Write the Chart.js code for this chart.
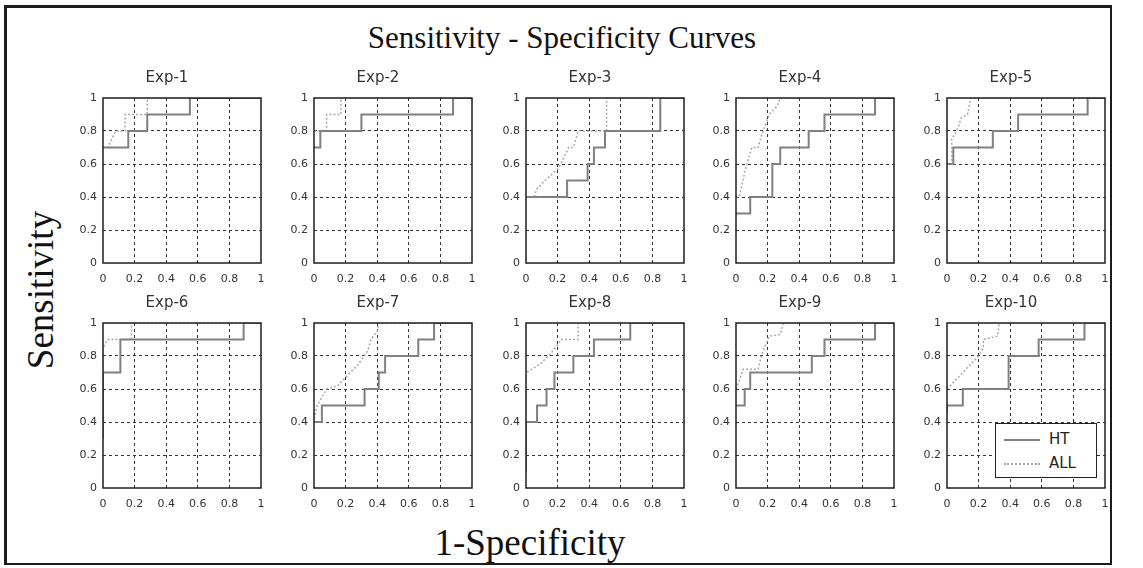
<!DOCTYPE html>
<html>
<head>
<meta charset="utf-8">
<script src="https://cdn.jsdelivr.net/npm/chart.js@4.4.1/dist/chart.umd.min.js"></script>
<style>
  body { margin: 0; background: #fff; width: 1143px; height: 568px; overflow: hidden; position: relative; }
  #frame { position: absolute; left: 4px; top: 5px; width: 1103px; height: 555px; border: 3px solid #1c1c1c; border-right-width: 2px; border-bottom-width: 2px; }
  .panel { position: absolute; }
  .serif { position: absolute; font-family: "Liberation Serif", "DejaVu Serif", serif; color: #111; white-space: nowrap; }
  #mainTitle { left: 0; width: 1124px; top: 20px; height: 36px; line-height: 36px; font-size: 31px; text-align: center; }
  #yLabel { left: 40px; top: 290px; font-size: 37px; transform: translate(-50%, -50%) rotate(-90deg); }
  #xLabel { left: 530px; top: 542px; font-size: 37px; transform: translate(-50%, -50%); }
  #legend { position: absolute; left: 995px; top: 423px; width: 100px; height: 53px; border: 1.5px solid #222; background: #fff; font-family: "DejaVu Sans", sans-serif; font-size: 15px; color: #222; z-index: 5; }
  .legRow { position: absolute; left: 8px; height: 20px; line-height: 20px; }
  .legLine { display: inline-block; width: 36px; vertical-align: middle; margin-right: 9px; }
</style>
</head>
<body>
<div id="frame"></div>
<div id="mainTitle" class="serif">Sensitivity - Specificity Curves</div>
<div id="yLabel" class="serif">Sensitivity</div>
<div id="xLabel" class="serif">1-Specificity</div>
<div id="legend"></div>
<script>
// axis ticks
const tickVals = [0, 0.2, 0.4, 0.6, 0.8, 1];
const tickLabels = ['0', '0.2', '0.4', '0.6', '0.8', '1'];
const expNames = ['Exp-1', 'Exp-2', 'Exp-3', 'Exp-4', 'Exp-5', 'Exp-6', 'Exp-7', 'Exp-8', 'Exp-9', 'Exp-10'];
const seriesNames = ['HT', 'ALL'];

// curves (x = 1-specificity, y = sensitivity)
const ht1X = [0, 0.16, 0.16, 0.28, 0.28, 0.55, 0.55, 1];
const ht1Y = [0.7, 0.7, 0.8, 0.8, 0.9, 0.9, 1, 1];
const all1X = [0, 0.03, 0.08, 0.14, 0.14, 0.28, 0.28, 1];
const all1Y = [0.7, 0.7, 0.8, 0.8, 0.9, 0.9, 1, 1];

const ht2X = [0, 0.04, 0.04, 0.3, 0.3, 0.88, 0.88, 1];
const ht2Y = [0.7, 0.7, 0.8, 0.8, 0.9, 0.9, 1, 1];
const all2X = [0, 0.08, 0.08, 0.17, 0.17, 1];
const all2Y = [0.8, 0.8, 0.9, 0.9, 1, 1];

const ht3X = [0, 0.26, 0.26, 0.39, 0.39, 0.43, 0.43, 0.5, 0.5, 0.85, 0.85, 1];
const ht3Y = [0.4, 0.4, 0.5, 0.5, 0.6, 0.6, 0.7, 0.7, 0.8, 0.8, 1, 1];
const all3X = [0, 0.05, 0.07, 0.12, 0.2, 0.22, 0.27, 0.3, 0.33, 0.51, 0.51, 1];
const all3Y = [0.4, 0.4, 0.45, 0.5, 0.57, 0.6, 0.7, 0.7, 0.8, 0.8, 1, 1];

const ht4X = [0, 0.09, 0.09, 0.23, 0.23, 0.28, 0.28, 0.46, 0.46, 0.56, 0.56, 0.88, 0.88, 1];
const ht4Y = [0.3, 0.3, 0.4, 0.4, 0.6, 0.6, 0.7, 0.7, 0.8, 0.8, 0.9, 0.9, 1, 1];
const all4X = [0, 0.02, 0.06, 0.1, 0.14, 0.16, 0.18, 0.21, 0.26, 0.28, 1];
const all4Y = [0.4, 0.4, 0.57, 0.7, 0.7, 0.77, 0.82, 0.9, 0.95, 1, 1];

const ht5X = [0, 0.04, 0.04, 0.29, 0.29, 0.45, 0.45, 0.89, 0.89, 1];
const ht5Y = [0.6, 0.6, 0.7, 0.7, 0.8, 0.8, 0.9, 0.9, 1, 1];
const all5X = [0, 0.03, 0.03, 0.07, 0.09, 0.13, 0.15, 1];
const all5Y = [0.6, 0.6, 0.75, 0.82, 0.88, 0.9, 1, 1];

const ht6X = [0, 0, 0.11, 0.11, 0.89, 0.89, 1];
const ht6Y = [0.3, 0.7, 0.7, 0.9, 0.9, 1, 1];
const all6X = [0, 0, 0.03, 0.18, 0.18, 1];
const all6Y = [0.3, 0.85, 0.9, 0.9, 1, 1];

const ht7X = [0, 0.05, 0.05, 0.32, 0.32, 0.41, 0.41, 0.45, 0.45, 0.66, 0.66, 0.76, 0.76, 1];
const ht7Y = [0.4, 0.4, 0.5, 0.5, 0.6, 0.6, 0.7, 0.7, 0.8, 0.8, 0.9, 0.9, 1, 1];
const all7X = [0, 0.02, 0.08, 0.15, 0.2, 0.28, 0.34, 0.36, 0.4, 0.41, 1];
const all7Y = [0.42, 0.5, 0.6, 0.62, 0.67, 0.75, 0.83, 0.9, 0.95, 1, 1];

const ht8X = [0, 0, 0.07, 0.07, 0.13, 0.13, 0.18, 0.18, 0.3, 0.3, 0.43, 0.43, 0.66, 0.66, 1];
const ht8Y = [0.1, 0.4, 0.4, 0.5, 0.5, 0.6, 0.6, 0.7, 0.7, 0.8, 0.8, 0.9, 0.9, 1, 1];
const all8X = [0, 0, 0.04, 0.1, 0.16, 0.21, 0.22, 0.33, 0.33, 1];
const all8Y = [0.1, 0.7, 0.72, 0.76, 0.82, 0.88, 0.9, 0.9, 1, 1];

const ht9X = [0, 0.055, 0.055, 0.09, 0.09, 0.48, 0.48, 0.56, 0.56, 0.88, 0.88, 1];
const ht9Y = [0.5, 0.5, 0.6, 0.6, 0.7, 0.7, 0.8, 0.8, 0.9, 0.9, 1, 1];
const all9X = [0, 0.02, 0.045, 0.14, 0.16, 0.18, 0.21, 0.28, 0.3, 1];
const all9Y = [0.6, 0.65, 0.72, 0.72, 0.8, 0.85, 0.92, 0.93, 1, 1];

const ht10X = [0, 0, 0.1, 0.1, 0.39, 0.39, 0.58, 0.58, 0.87, 0.87, 1];
const ht10Y = [0.45, 0.5, 0.5, 0.6, 0.6, 0.8, 0.8, 0.9, 0.9, 1, 1];
const all10X = [0, 0.2, 0.23, 0.23, 0.32, 0.33, 1];
const all10Y = [0.6, 0.8, 0.85, 0.9, 0.92, 1, 1];

const htXs = [ht1X, ht2X, ht3X, ht4X, ht5X, ht6X, ht7X, ht8X, ht9X, ht10X];
const htYs = [ht1Y, ht2Y, ht3Y, ht4Y, ht5Y, ht6Y, ht7Y, ht8Y, ht9Y, ht10Y];
const allXs = [all1X, all2X, all3X, all4X, all5X, all6X, all7X, all8X, all9X, all10X];
const allYs = [all1Y, all2Y, all3Y, all4Y, all5Y, all6Y, all7Y, all8Y, all9Y, all10Y];

// layout of the 2x5 grid of plots (pixels)
const colLefts = [103, 314, 526, 736, 947];
const rowTops = [98, 323];
const plotW = 158, plotH = 165;
// right pad = y axis width so the panel title sits centred over the plot
const yAxisW = 30, xAxisH = 24, titleH = 31, padRight = 30;

const htColor = '#808080';
const allColor = '#a9a9a9';
const gridColor = '#333';
const textColor = '#333';

function toPoints(xs, ys) {
  return xs.map((x, i) => ({ x: x, y: ys[i] }));
}

// black box round each plot area, drawn over the curves like MATLAB does
const framePlugin = {
  id: 'plotFrame',
  afterDatasetsDraw(chart) {
    const a = chart.chartArea;
    const ctx = chart.ctx;
    ctx.save();
    ctx.strokeStyle = '#1e1e1e';
    ctx.lineWidth = 1.5;
    ctx.strokeRect(a.left, a.top, a.right - a.left, a.bottom - a.top);
    ctx.restore();
  }
};

function makeAxis(isX) {
  return {
    type: 'linear',
    min: 0,
    max: 1,
    afterBuildTicks: s => { s.ticks = tickVals.map(v => ({ value: v })); },
    afterFit: s => { if (isX) s.height = xAxisH; else s.width = yAxisW; },
    ticks: {
      callback: (v, i) => tickLabels[i],
      font: { family: 'DejaVu Sans', size: 11 },
      color: textColor,
      padding: isX ? 10 : 6,
      maxRotation: 0,
      autoSkip: false
    },
    grid: {
      color: c => (c.tick && (c.tick.value === 0 || c.tick.value === 1)) ? 'rgba(0,0,0,0)' : gridColor,
      lineWidth: 1,
      drawTicks: false
    },
    border: { display: false, dash: [3, 3] }
  };
}

for (let k = 0; k < expNames.length; k++) {
  const row = Math.floor(k / 5), col = k % 5;
  const cv = document.createElement('canvas');
  const w = yAxisW + plotW + padRight;
  const h = titleH + plotH + xAxisH;
  cv.width = w; cv.height = h;
  cv.className = 'panel';
  cv.style.left = (colLefts[col] - yAxisW) + 'px';
  cv.style.top = (rowTops[row] - titleH) + 'px';
  cv.style.width = w + 'px';
  cv.style.height = h + 'px';
  document.body.appendChild(cv);

  new Chart(cv, {
    type: 'scatter',
    data: {
      datasets: [
        {
          label: seriesNames[0],
          data: toPoints(htXs[k], htYs[k]),
          showLine: true,
          borderColor: htColor,
          borderWidth: 2,
          pointRadius: 0,
          fill: false
        },
        {
          label: seriesNames[1],
          data: toPoints(allXs[k], allYs[k]),
          showLine: true,
          borderColor: allColor,
          borderWidth: 1.5,
          borderDash: [2, 2],
          pointRadius: 0,
          fill: false
        }
      ]
    },
    options: {
      responsive: false,
      animation: false,
      events: [],
      layout: { padding: { left: 0, right: padRight, top: 0, bottom: 0 } },
      plugins: {
        legend: { display: false },
        tooltip: { enabled: false },
        title: {
          display: true,
          text: expNames[k],
          color: textColor,
          font: { family: 'DejaVu Sans', size: 15, weight: 'normal', lineHeight: 1 },
          padding: { top: 4, bottom: 12 }
        }
      },
      scales: { x: makeAxis(true), y: makeAxis(false) }
    },
    plugins: [framePlugin]
  });
}

// legend inside Exp-10
const legend = document.getElementById('legend');
seriesNames.forEach((name, i) => {
  const rowDiv = document.createElement('div');
  rowDiv.className = 'legRow';
  rowDiv.style.top = (5 + i * 24) + 'px';
  const line = document.createElement('span');
  line.className = 'legLine';
  line.style.borderTop = i === 0 ? '2px solid ' + htColor : '2px dotted ' + allColor;
  rowDiv.appendChild(line);
  rowDiv.appendChild(document.createTextNode(name));
  legend.appendChild(rowDiv);
});
</script>
</body>
</html>
